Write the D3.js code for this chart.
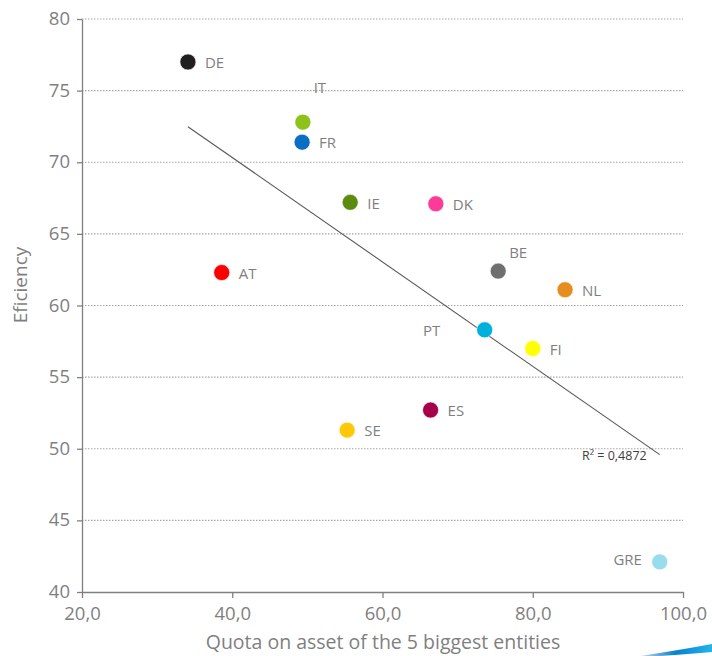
<!DOCTYPE html>
<html><head><meta charset="utf-8">
<script src="https://cdn.jsdelivr.net/npm/d3@7"></script>
<style>
body{margin:0;background:#fff;}
svg{display:block;font-family:"Open Sans","DejaVu Sans",sans-serif;}
</style></head>
<body><svg id="c" width="712" height="656"></svg>
<script>
// ---- data ----
const countries = ["DE","IT","FR","IE","DK","AT","BE","NL","PT","FI","ES","SE","GRE"];
const quota     = [34.1, 49.4, 49.3, 55.7, 67.1, 38.6, 75.4, 84.3, 73.6, 80.0, 66.4, 55.3, 96.9];
const efficiency= [77.0, 72.8, 71.4, 67.2, 67.1, 62.3, 62.4, 61.1, 58.3, 57.0, 52.7, 51.3, 42.1];
const colors    = ["#1f1f1f","#8cc21a","#0a6fc2","#5b8c0f","#fb3b97","#ff0000","#6f6f6f","#e58d1f","#00b0dc","#ffff00","#a6004a","#ffc90a","#98dcee"];
const xTicks = [20,40,60,80,100];
const yTicks = [40,45,50,55,60,65,70,75,80];
const r2Label = "R² = 0,4872";
const xTitle = "Quota on asset of the 5 biggest entities";
const yTitle = "Eficiency";

// label placement (style)
const labelPos = {
  IT:{dx:17,dy:-34,anchor:"middle"},
  BE:{dx:20,dy:-18,anchor:"middle"},
  PT:{dx:-53,dy:1,anchor:"middle"},
  GRE:{dx:-32,dy:-2,anchor:"middle"}
};

const svg = d3.select("#c");
const m = {l:82, r:29, t:19, b:64};
const W = 712, H = 656;
const x = d3.scaleLinear().domain([20,100]).range([m.l, W-m.r]);
const y = d3.scaleLinear().domain([40,80]).range([H-m.b, m.t]);

// gridlines
svg.append("g").selectAll("line").data(yTicks.filter(d=>d>40)).join("line")
  .attr("x1",x(20)).attr("x2",x(100)).attr("y1",d=>y(d)).attr("y2",d=>y(d))
  .attr("stroke","#a6a6a6").attr("stroke-width",1.2).attr("stroke-dasharray","1.5,1.5");

// axes
const fmt = d=>d3.format(".1f")(d).replace(".",",");
const xa = svg.append("g").attr("transform",`translate(0,${y(40)})`)
  .call(d3.axisBottom(x).tickValues(xTicks).tickFormat(fmt).tickSize(6).tickSizeOuter(0));
const ya = svg.append("g").attr("transform",`translate(${x(20)},0)`)
  .call(d3.axisLeft(y).tickValues(yTicks).tickFormat(d3.format("d")).tickSize(5).tickSizeOuter(0));
[xa,ya].forEach(a=>{
  a.select(".domain").attr("stroke","#808080").attr("stroke-width",1.3);
  a.selectAll(".tick line").attr("stroke","#808080").attr("stroke-width",1.3);
  a.selectAll(".tick text").attr("fill","#7f7f7f").attr("font-size",18.5).attr("font-family","Open Sans, sans-serif");
});
xa.selectAll(".tick text").attr("dy","1.02em");
ya.selectAll(".tick text").attr("x",-12).attr("dy","0.3em");

// trendline (least squares)
const mx = d3.mean(quota), my = d3.mean(efficiency);
const sxy = d3.sum(quota,(v,i)=>(v-mx)*(efficiency[i]-my));
const sxx = d3.sum(quota,v=>(v-mx)*(v-mx));
const slope = sxy/sxx, icpt = my - slope*mx;
const x0 = d3.min(quota), x1 = d3.max(quota);
svg.append("line")
  .attr("x1",x(x0)).attr("y1",y(icpt+slope*x0))
  .attr("x2",x(x1)).attr("y2",y(icpt+slope*x1))
  .attr("stroke","#595959").attr("stroke-width",1.1);
svg.append("text").attr("x",x(x1)-13).attr("y",y(icpt+slope*x1)+5)
  .attr("text-anchor","end").attr("font-size",12.5).attr("fill","#404040")
  .attr("font-family","Open Sans, sans-serif").text(r2Label);

// points
const pts = countries.map((c,i)=>({c, x:quota[i], y:efficiency[i], col:colors[i]}));
svg.append("g").selectAll("circle").data(pts).join("circle")
  .attr("cx",d=>x(d.x)).attr("cy",d=>y(d.y)).attr("r",8)
  .attr("fill",d=>d.col).attr("stroke","#fff").attr("stroke-width",0.6);

svg.append("g").selectAll("text").data(pts).join("text")
  .attr("x",d=>x(d.x)+(labelPos[d.c]?labelPos[d.c].dx:17))
  .attr("y",d=>y(d.y)+(labelPos[d.c]?labelPos[d.c].dy:1))
  .attr("dy","0.35em")
  .attr("text-anchor",d=>labelPos[d.c]?labelPos[d.c].anchor:"start")
  .attr("font-size",15).attr("fill","#7f7f7f").text(d=>d.c);

// titles
svg.append("text").attr("x",383).attr("y",649)
  .attr("text-anchor","middle").attr("font-size",19.5).attr("fill","#7f7f7f").text(xTitle);
svg.append("text").attr("transform",`translate(27,285) rotate(-90)`)
  .attr("text-anchor","middle").attr("font-size",19).attr("fill","#7f7f7f").text(yTitle);

// decorative swoosh bottom right
const g = svg.append("defs").append("linearGradient").attr("id","sw").attr("x1","0").attr("x2","1");
g.append("stop").attr("offset","0").attr("stop-color","#0a5fb0").attr("stop-opacity",0.2);
g.append("stop").attr("offset","0.5").attr("stop-color","#0a7fd0");
g.append("stop").attr("offset","1").attr("stop-color","#22b5ee");
svg.append("path").attr("d","M640,656 Q680,650 712,644 L712,652 Q690,654 660,656 Z").attr("fill","url(#sw)");
</script></body></html>
